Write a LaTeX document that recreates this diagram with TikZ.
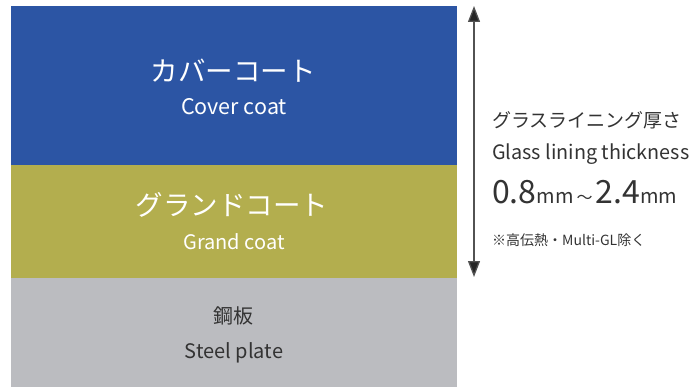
\documentclass[tikz,border=0pt]{standalone}
\usepackage{fontspec}
\setmainfont{Noto Sans CJK JP}
\usetikzlibrary{arrows.meta}
\definecolor{coverblue}{HTML}{2C55A4}
\definecolor{grandolive}{HTML}{B3AE4E}
\definecolor{steelgray}{HTML}{BBBCC0}
\definecolor{darktext}{HTML}{333333}
\begin{document}
\begin{tikzpicture}[x=1pt,y=-1pt,
  jp/.style={inner sep=0pt,anchor=center},
  rt/.style={inner sep=0pt,anchor=west,text=darktext}]
\useasboundingbox (0,0) rectangle (700,387);
\fill[coverblue] (11,6) rectangle (457,165);
\fill[grandolive] (11,165) rectangle (457,278);
\fill[steelgray] (11,278) rectangle (457,387);
\node[jp,text=white,font=\fontsize{27.5}{30}\selectfont] (cj) at (233,71) {カバーコート};
\node[jp,text=white,font=\fontsize{21.5}{24}\selectfont] (ce) at (234,107) {Cover coat};
\node[jp,text=white,font=\fontsize{27.5}{30}\selectfont] (gj) at (232,205) {グランドコート};
\node[jp,text=white,font=\fontsize{20}{24}\selectfont] (ge) at (234,242) {Grand coat};
\node[jp,text=darktext,font=\fontsize{20}{24}\selectfont] (sj) at (233,316) {鋼板};
\node[jp,text=darktext,font=\fontsize{20}{24}\selectfont] (se) at (234,353) {Steel plate};
\coordinate (atop) at (474,6);
\coordinate (abot) at (474,277);
\draw[draw=darktext!85,line width=1.3pt,{Triangle[width=12pt,length=16pt,fill=black!85]}-{Triangle[width=12pt,length=16pt,fill=black!85]}] (atop) -- (abot);
\node[rt,font=\fontsize{19}{22}\selectfont] (tj) at (492,120) {グラスライニング厚さ};
\node[rt,font=\fontsize{19.8}{22}\selectfont] (te) at (492,154) {Glass lining thickness};
\node[rt,font=\fontsize{20}{24}\selectfont] (tn) at (492,192) {{\fontsize{32}{36}\selectfont 0.8}mm\hspace{3pt}{\fontsize{16}{20}\selectfont 〜}\hspace{3pt}{\fontsize{32}{36}\selectfont 2.4}mm};
\node[rt,font=\fontsize{14}{17}\selectfont] (tx) at (492,240) {※高伝熱・Multi-GL除く};
\end{tikzpicture}
\end{document}
